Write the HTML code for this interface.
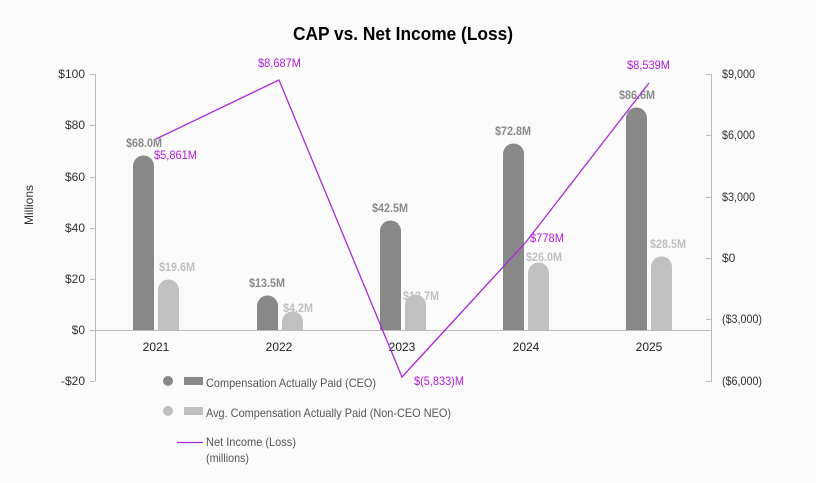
<!DOCTYPE html>
<html><head><meta charset="utf-8"><style>
html,body{margin:0;padding:0;background:#fafafa;}
svg{display:block;font-family:"Liberation Sans",Arial,sans-serif;}
</style></head><body>
<svg width="816" height="483" viewBox="0 0 816 483" xmlns="http://www.w3.org/2000/svg">
<rect width="816" height="483" fill="#fafafa"/>
<text x="403" y="40" text-anchor="middle" font-size="18" font-weight="bold" fill="#000" textLength="220" lengthAdjust="spacingAndGlyphs">CAP vs. Net Income (Loss)</text>
<text transform="translate(33,205) rotate(-90)" text-anchor="middle" font-size="12" fill="#333">Millions</text>
<g stroke="#bbb" stroke-width="1" fill="none">
<path d="M95.5 74V381M90 74.5H95M90 125.5H95M90 177.5H95M90 228.5H95M90 279.5H95M90 330.5H95M90 381.5H95"/>
<path d="M711.5 74V382M706 74.5H711M706 135.5H711M706 197.5H711M706 258.5H711M706 319.5H711M706 381.5H711"/>
<path d="M95 330.5H711"/>
</g>
<g font-size="12" fill="#333" text-anchor="end">
<text x="85" y="78">$100</text><text x="85" y="129">$80</text><text x="85" y="181">$60</text><text x="85" y="232">$40</text><text x="85" y="283">$20</text><text x="85" y="334">$0</text><text x="85" y="385">-$20</text>
</g>
<g font-size="12" fill="#333">
<text x="722" y="78" textLength="33" lengthAdjust="spacingAndGlyphs">$9,000</text><text x="722" y="139" textLength="33" lengthAdjust="spacingAndGlyphs">$6,000</text><text x="722" y="201" textLength="33" lengthAdjust="spacingAndGlyphs">$3,000</text><text x="722" y="262">$0</text><text x="722" y="323" textLength="40" lengthAdjust="spacingAndGlyphs">($3,000)</text><text x="722" y="385" textLength="40" lengthAdjust="spacingAndGlyphs">($6,000)</text>
</g>
<g font-size="12" fill="#222" text-anchor="middle">
<text x="156" y="351">2021</text><text x="279" y="351">2022</text><text x="402" y="351">2023</text><text x="526" y="351">2024</text><text x="649" y="351">2025</text>
</g>
<g fill="#888">
<path d="M133 330V166a10.5 10.5 0 0 1 21 0V330Z"/>
<path d="M257 330V306a10.5 10.5 0 0 1 21 0V330Z"/>
<path d="M380 330V231a10.5 10.5 0 0 1 21 0V330Z"/>
<path d="M503 330V154a10.5 10.5 0 0 1 21 0V330Z"/>
<path d="M626 330V118a10.5 10.5 0 0 1 21 0V330Z"/>
</g>
<g fill="#c0c0c0">
<path d="M158 330V290a10.5 10.5 0 0 1 21 0V330Z"/>
<path d="M282 330V322a8 8 0 0 1 21 0V330Z"/>
<path d="M405 330V305a10.5 10.5 0 0 1 21 0V330Z"/>
<path d="M528 330V273a10.5 10.5 0 0 1 21 0V330Z"/>
<path d="M651 330V267a10.5 10.5 0 0 1 21 0V330Z"/>
</g>
<g font-size="12" font-weight="bold" fill="#8a8a8a" text-anchor="middle">
<text x="144" y="147" textLength="36" lengthAdjust="spacingAndGlyphs">$68.0M</text><text x="267" y="287" textLength="36" lengthAdjust="spacingAndGlyphs">$13.5M</text><text x="390" y="212" textLength="36" lengthAdjust="spacingAndGlyphs">$42.5M</text><text x="513" y="135" textLength="36" lengthAdjust="spacingAndGlyphs">$72.8M</text><text x="637" y="99" textLength="36" lengthAdjust="spacingAndGlyphs">$86.6M</text>
</g>
<g font-size="12" font-weight="bold" fill="#c0c0c0" text-anchor="middle">
<text x="177" y="271" textLength="36" lengthAdjust="spacingAndGlyphs">$19.6M</text><text x="298" y="312" textLength="30" lengthAdjust="spacingAndGlyphs">$4.2M</text><text x="421" y="304" textLength="36" lengthAdjust="spacingAndGlyphs" dy="-4">$13.7M</text><text x="544" y="261" textLength="36" lengthAdjust="spacingAndGlyphs">$26.0M</text><text x="668" y="248" textLength="36" lengthAdjust="spacingAndGlyphs">$28.5M</text>
</g>
<polyline points="156,139 279,80 402,377 526,242 649,83" fill="none" stroke="#a82ad6" stroke-width="1.3"/>
<g font-size="12" fill="#b020d8">
<text x="154" y="159" textLength="43" lengthAdjust="spacingAndGlyphs">$5,861M</text><text x="258" y="67" textLength="43" lengthAdjust="spacingAndGlyphs">$8,687M</text><text x="414" y="385" textLength="50" lengthAdjust="spacingAndGlyphs">$(5,833)M</text><text x="530" y="242" textLength="34" lengthAdjust="spacingAndGlyphs">$778M</text><text x="627" y="69" textLength="43" lengthAdjust="spacingAndGlyphs">$8,539M</text>
</g>
<circle cx="168" cy="381" r="5" fill="#888"/>
<rect x="184" y="377" width="19" height="8" fill="#888"/>
<text x="206" y="387" font-size="12" fill="#555" textLength="170" lengthAdjust="spacingAndGlyphs">Compensation Actually Paid (CEO)</text>
<circle cx="168" cy="411" r="5" fill="#c0c0c0"/>
<rect x="184" y="407" width="19" height="8" fill="#c0c0c0"/>
<text x="206" y="417" font-size="12" fill="#555" textLength="245" lengthAdjust="spacingAndGlyphs">Avg. Compensation Actually Paid (Non-CEO NEO)</text>
<path d="M177 442.5H203" stroke="#a82ad6" stroke-width="1.3"/>
<text x="206" y="446" font-size="12" fill="#555" textLength="90" lengthAdjust="spacingAndGlyphs">Net Income (Loss)</text>
<text x="206" y="462" font-size="12" fill="#555" textLength="43" lengthAdjust="spacingAndGlyphs">(millions)</text>
</svg>
</body></html>
